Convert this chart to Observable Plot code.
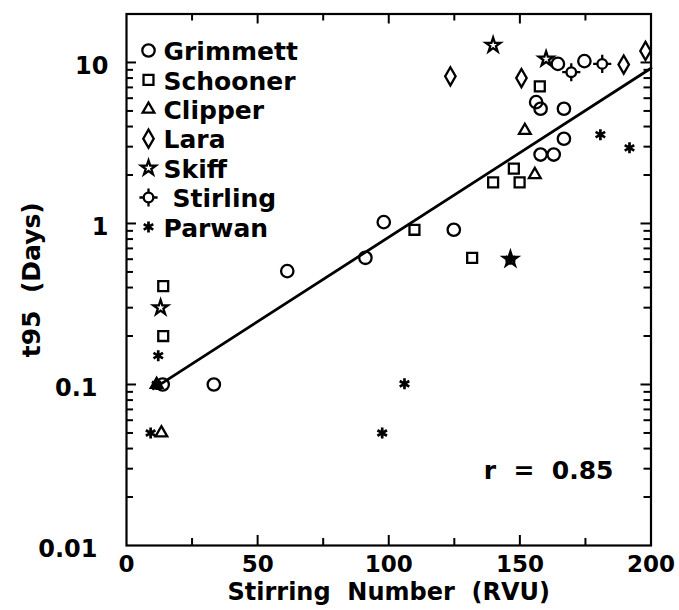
<!DOCTYPE html>
<html><head><meta charset="utf-8">
<script src="https://cdn.jsdelivr.net/npm/d3@7"></script>
<script src="https://cdn.jsdelivr.net/npm/@observablehq/plot@0.6"></script>
<style>
html,body{margin:0;padding:0;background:#fff;}
#chart svg{display:block;}
</style></head><body><div id="chart"></div>
<script>
// ---- data ----
const seriesNames = ["Grimmett","Schooner","Clipper","Lara","Skiff","Stirling","Parwan"];

const grimmettX = [13.8, 33.3, 61.3, 91.1, 98.1, 124.8, 156.2, 157.9, 157.9, 162.9, 164.5, 166.8, 166.8, 174.6];
const grimmettY = [0.1, 0.1, 0.506, 0.612, 1.02, 0.914, 5.67, 5.16, 2.68, 2.68, 9.8, 5.16, 3.36, 10.2];

const schoonerX = [14.0, 14.0, 109.8, 131.8, 139.8, 147.7, 149.9, 157.6];
const schoonerY = [0.408, 0.20, 0.914, 0.612, 1.80, 2.19, 1.80, 7.1];

const clipperX = [11.5, 13.3, 151.9, 155.7];
const clipperY = [0.1, 0.05, 3.78, 2.01];

const laraX = [123.5, 150.6, 189.6, 197.9];
const laraY = [8.2, 8.0, 9.7, 11.8];

const skiffX = [13.0, 139.8, 146.4, 160.0];
const skiffY = [0.30, 12.8, 0.60, 10.5];

const stirlingX = [169.6, 181.4];
const stirlingY = [8.7, 9.8];

const parwanX = [9.2, 11.5, 12.1, 97.5, 106.0, 146.4, 180.7, 191.8];
const parwanY = [0.05, 0.1, 0.151, 0.05, 0.101, 0.60, 3.56, 2.95];

// regression line end points
const fitX = [10.2, 200];
const fitY = [0.094, 9.2];

const rLabel = "r\u00a0\u00a0=\u00a0\u00a00.85";
const xTitle = "Stirring\u00a0\u00a0Number\u00a0\u00a0(RVU)";
const yTitle = "t95\u00a0\u00a0(Days)";

const xTickLabels = [0, 50, 100, 150, 200];
const yTickLabelsBig = [10, 1];
const yTickLabelsSmall = [0.1, 0.01];
const xMajorTicks = [50, 100, 150];
const xMinorTicks = [25, 75, 125, 175];
const yMajorTicks = [0.1, 1, 10];
const yMinorTicks = [0.02,0.03,0.04,0.05,0.06,0.07,0.08,0.09,0.2,0.3,0.4,0.5,0.6,0.7,0.8,0.9,2,3,4,5,6,7,8,9];

// ---- build tables ----
const seriesXY = [
  [grimmettX, grimmettY], [schoonerX, schoonerY], [clipperX, clipperY],
  [laraX, laraY], [skiffX, skiffY], [stirlingX, stirlingY], [parwanX, parwanY]
];
const tables = seriesXY.map(([xs, ys], i) => xs.map((x, j) => ({name: seriesNames[i], x, y: ys[j]})));
const fitRows = fitX.map((x, i) => ({x, y: fitY[i]}));

const W = 679, H = 610;
const mL = 126, mR = 28.5, mT = 13.5, mB = 65;
const plotW = W - mL - mR, plotH = H - mT - mB;
const FONT = "DejaVu Sans";

const symStyle = [
  {symbol: "circle", r: 6.2},
  {symbol: "square", r: 5.6},
  {symbol: "triangle2", r: 5.6},
  {symbol: "diamond", r: 5.5},
  {symbol: "star", r: 4.6},
  {symbol: "stirling", r: 4.8},
  {symbol: "asterisk", r: 5.2}
];

function seriesMarks(data, i, extra) {
  const s = symStyle[i];
  const base = {stroke: "black", strokeWidth: 2.3, fill: "none", ...extra};
  if (s.symbol === "stirling") {
    return [
      Plot.dot(data, {...base, symbol: "plus", r: 5.9}),
      Plot.dot(data, {...base, symbol: "circle", r: s.r, fill: "white"})
    ];
  }
  if (s.symbol === "asterisk") {
    return [Plot.dot(data, {...base, symbol: "asterisk", r: s.r, strokeWidth: 2.7})];
  }
  return [Plot.dot(data, {...base, symbol: s.symbol, r: s.r})];
}

const marks = [];
// ticks (inward, all four sides)
marks.push(Plot.tickX(xMajorTicks, {x: d => d, insetTop: plotH - 10, strokeWidth: 2}));
marks.push(Plot.tickX(xMinorTicks, {x: d => d, insetTop: plotH - 7, strokeWidth: 2}));
marks.push(Plot.tickX(xMajorTicks, {x: d => d, insetBottom: plotH - 10, strokeWidth: 2}));
marks.push(Plot.tickX(xMinorTicks, {x: d => d, insetBottom: plotH - 7, strokeWidth: 2}));
marks.push(Plot.tickY(yMajorTicks, {y: d => d, insetRight: plotW - 10, strokeWidth: 2}));
marks.push(Plot.tickY(yMinorTicks, {y: d => d, insetRight: plotW - 7, strokeWidth: 2}));
marks.push(Plot.tickY(yMajorTicks, {y: d => d, insetLeft: plotW - 10, strokeWidth: 2}));
marks.push(Plot.tickY(yMinorTicks, {y: d => d, insetLeft: plotW - 7, strokeWidth: 2}));
marks.push(Plot.frame({stroke: "black", strokeWidth: 2.2}));

// axis labels
marks.push(Plot.axisX({ticks: xTickLabels, tickSize: 0, tickPadding: 10, tickFormat: d => String(d), label: null, fontSize: 23}));
marks.push(Plot.axisY({ticks: yTickLabelsBig, tickSize: 0, tickPadding: 18, dy: 4, tickFormat: d => String(d), label: null, fontSize: 24}));
marks.push(Plot.axisY({ticks: yTickLabelsSmall, tickSize: 0, tickPadding: 29, dy: 4, tickFormat: d => String(d), label: null, fontSize: 24}));

// fit line
marks.push(Plot.line(fitRows, {x: "x", y: "y", stroke: "black", strokeWidth: 2.8}));

// data
tables.forEach((t, i) => marks.push(...seriesMarks(t, i, {x: "x", y: "y"})));

// legend
seriesNames.forEach((name, i) => {
  const dy = 36.5 + i * 29.4;
  marks.push(...seriesMarks([name], i, {frameAnchor: "top-left", dx: 22, dy}));
  marks.push(Plot.text([name], {frameAnchor: "top-left", text: d => d, textAnchor: "start",
    dx: name === "Stirling" ? 46 : 37, dy: dy - 8, fontSize: 25}));
});

// annotations & titles
marks.push(Plot.text([rLabel], {frameAnchor: "bottom-right", text: d => d, textAnchor: "end", dx: -37.5, dy: -67, fontSize: 25}));
marks.push(Plot.text([xTitle], {frameAnchor: "bottom", text: d => d, textAnchor: "middle", dy: 54, fontSize: 24}));
marks.push(Plot.text([yTitle], {frameAnchor: "left", text: d => d, textAnchor: "middle", rotate: -90, dx: -95, fontSize: 25}));

const chart = Plot.plot({
  width: W, height: H,
  marginLeft: mL, marginRight: mR, marginTop: mT, marginBottom: mB,
  style: {fontFamily: FONT, fontWeight: "bold", fontSize: "24px", color: "black", background: "white"},
  x: {domain: [0, 200], label: null},
  y: {type: "log", domain: [0.01, 20], label: null},
  marks
});
document.getElementById("chart").appendChild(chart);
</script></body></html>
